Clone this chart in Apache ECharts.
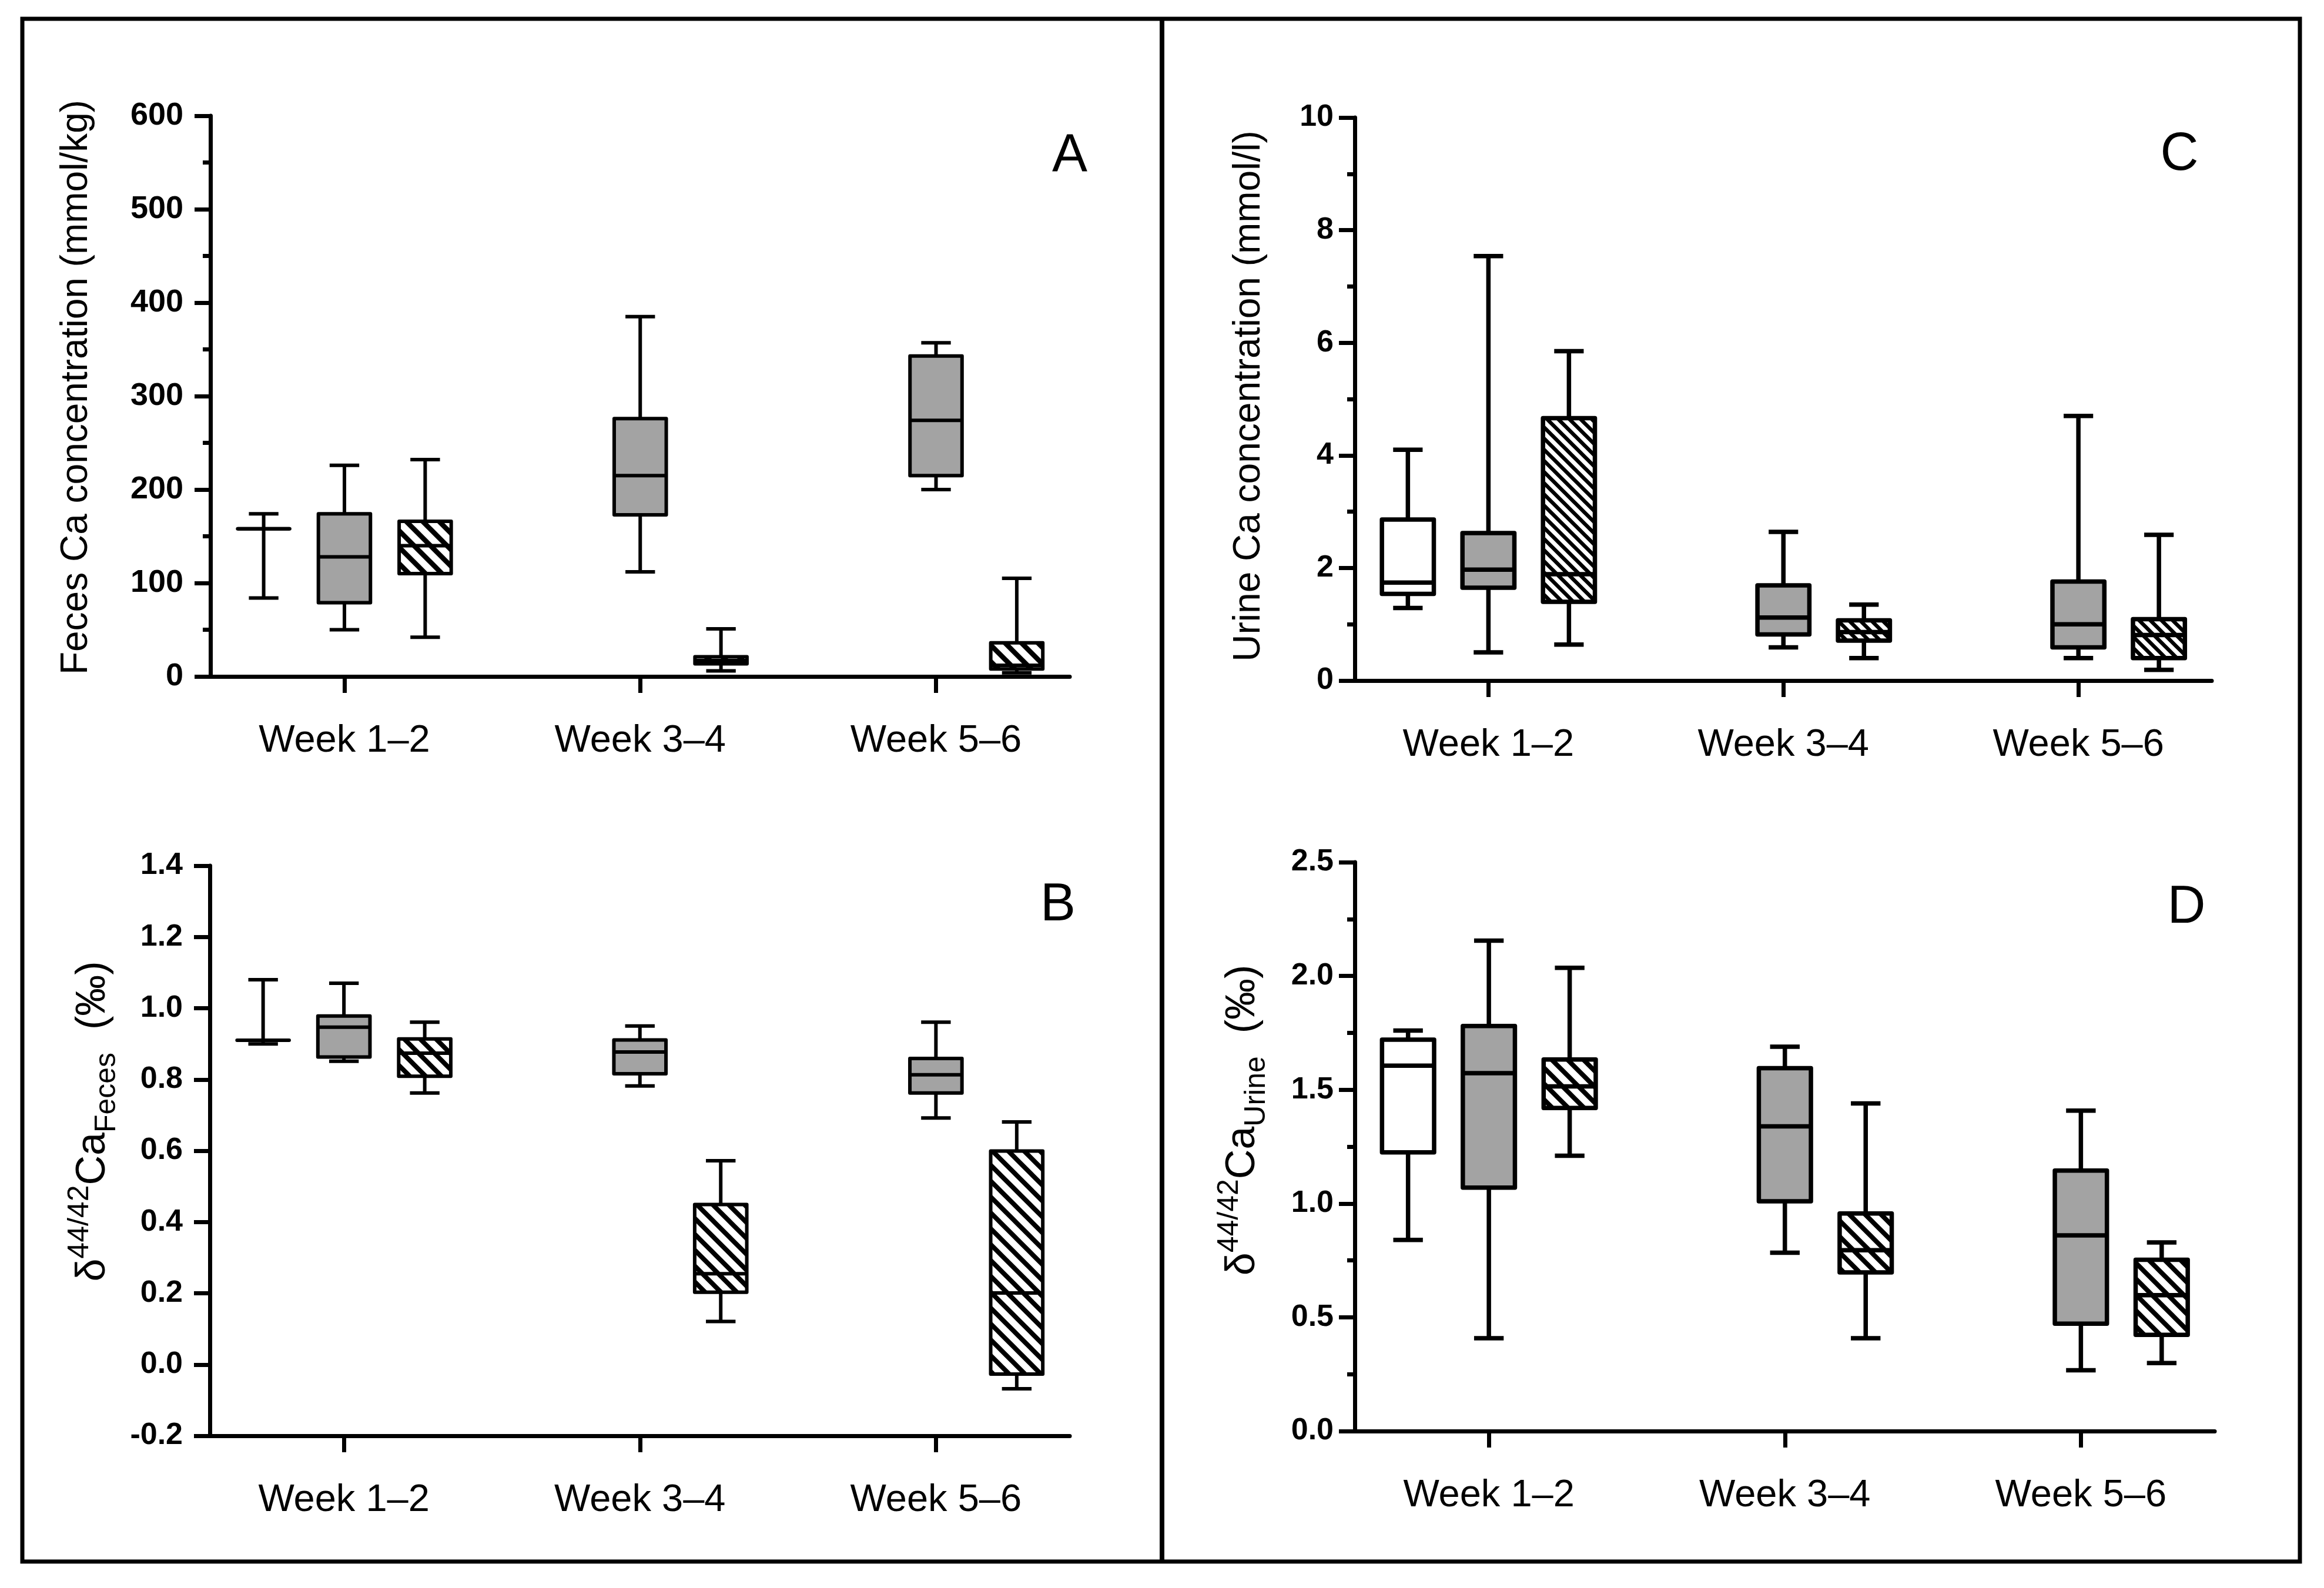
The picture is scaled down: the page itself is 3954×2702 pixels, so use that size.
<!DOCTYPE html>
<html><head><meta charset="utf-8">
<script src="https://cdn.jsdelivr.net/npm/echarts@6/dist/echarts.min.js"></script>
<style>html,body{margin:0;padding:0;background:#fff}#c{width:3954px;height:2702px}</style>
</head><body><div id="c"></div>
<script>
// ---------------- DATA ----------------
const weekLabels = ['Week 1\u20132', 'Week 3\u20134', 'Week 5\u20136'];
// each box: [min, Q1, median, Q3, max]; index = week group
const fecesCaWhite   = [[84, 158, 158, 158, 174]];
const fecesCaGray    = [[50, 79, 128, 174, 226], [112, 173, 215, 276, 385], [200, 215, 274, 343, 357]];
const fecesCaHatched = [[42, 110, 140, 166, 232], [6, 13.5, 17, 21, 51], [4, 8, 12, 36, 105]];

const deltaFecesWhite   = [[0.90, 0.91, 0.91, 0.91, 1.08]];
const deltaFecesGray    = [[0.851, 0.863, 0.947, 0.978, 1.07], [0.782, 0.816, 0.877, 0.911, 0.95], [0.692, 0.762, 0.813, 0.859, 0.961]];
const deltaFecesHatched = [[0.762, 0.809, 0.874, 0.914, 0.961], [0.121, 0.203, 0.255, 0.449, 0.572], [-0.068, -0.027, 0.201, 0.599, 0.681]];

const urineCaWhite   = [[1.29, 1.54, 1.74, 2.86, 4.10]];
const urineCaGray    = [[0.50, 1.65, 1.97, 2.62, 7.54], [0.59, 0.82, 1.12, 1.69, 2.64], [0.40, 0.59, 1.00, 1.76, 4.70]];
const urineCaHatched = [[0.64, 1.40, 1.89, 4.66, 5.85], [0.40, 0.71, 0.86, 1.07, 1.35], [0.19, 0.40, 0.81, 1.09, 2.59]];

const deltaUrineWhite   = [[0.84, 1.225, 1.606, 1.72, 1.76]];
const deltaUrineGray    = [[0.408, 1.07, 1.573, 1.78, 2.155], [0.784, 1.01, 1.339, 1.595, 1.689], [0.267, 0.472, 0.86, 1.145, 1.408]];
const deltaUrineHatched = [[1.21, 1.42, 1.515, 1.633, 2.036], [0.408, 0.697, 0.795, 0.956, 1.44], [0.299, 0.423, 0.597, 0.753, 0.829]];

// y-axis definitions (min, max, tick interval)
const yAxisA = {min: 0, max: 600, interval: 100};
const yAxisB = {min: -0.2, max: 1.4, interval: 0.2};
const yAxisC = {min: 0, max: 10, interval: 2};
const yAxisD = {min: 0, max: 2.5, interval: 0.5};

// ---------------- STYLE ----------------
const FONT = "'Liberation Sans', Arial, Helvetica, sans-serif";
const GRAY = '#a3a3a3';
const OFFSET = 0.273, BOX_HALF = 0.088, CAP_HALF = 0.05;

function makeHatch(period, thick) {
  const c = document.createElement('canvas');
  c.width = period; c.height = period;
  const g = c.getContext('2d');
  g.fillStyle = '#fff'; g.fillRect(0, 0, period, period);
  g.strokeStyle = '#000'; g.lineWidth = thick; g.lineCap = 'square';
  g.beginPath();
  for (let k = -1; k <= 1; k++) { g.moveTo(k * period - period, -period); g.lineTo(k * period + 2 * period, 2 * period); }
  g.stroke();
  return {image: c, repeat: 'repeat'};
}

function boxRenderer(offsetFrac, fill, lw) {
  return function (params, api) {
    const x = api.value(0);
    const unit = api.size([1, 0])[0];
    const cx = api.coord([x, api.value(3)])[0] + offsetFrac * unit;
    const yy = i => api.coord([x, api.value(i)])[1];
    const yMin = yy(1), yQ1 = yy(2), yMed = yy(3), yQ3 = yy(4), yMax = yy(5);
    const hw = BOX_HALF * unit, cw = CAP_HALF * unit;
    const ls = {stroke: '#000', lineWidth: lw, lineCap: 'butt', fill: null};
    return {type: 'group', children: [
      {type: 'line', shape: {x1: cx, y1: yMax, x2: cx, y2: yQ3}, style: ls},
      {type: 'line', shape: {x1: cx, y1: yQ1, x2: cx, y2: yMin}, style: ls},
      {type: 'line', shape: {x1: cx - cw, y1: yMax, x2: cx + cw, y2: yMax}, style: ls},
      {type: 'line', shape: {x1: cx - cw, y1: yMin, x2: cx + cw, y2: yMin}, style: ls},
      {type: 'rect', shape: {x: cx - hw, y: yQ3, width: 2 * hw, height: yQ1 - yQ3},
        style: {fill: fill, stroke: '#000', lineWidth: lw, lineJoin: 'round'}},
      {type: 'line', shape: {x1: cx - hw, y1: yMed, x2: cx + hw, y2: yMed}, style: ls}
    ]};
  };
}

const panels = [
  {grid: {left: 358, top: 197, width: 1462, height: 954}, y: yAxisA, white: fecesCaWhite, gray: fecesCaGray, hatched: fecesCaHatched,
   hatch: makeHatch(28, 8.5), lw: 6, fmt: v => String(Math.round(v)), minor: true, labelMargin: 46, tickFont: 54,
   name: 'Feces Ca concentration (mmol/kg)', nameGap: 196, rich: false, shift: 30},
  {grid: {left: 357, top: 1473, width: 1463, height: 970}, y: yAxisB, white: deltaFecesWhite, gray: deltaFecesGray, hatched: deltaFecesHatched,
   hatch: makeHatch(27, 8), lw: 6, fmt: v => v.toFixed(1), minor: false, labelMargin: 46, tickFont: 52,
   name: '{m|\u03b4}{sup|44/42}{m|Ca}{sub|Feces}{m|  (\u2030)}', nameGap: 150, rich: true, shift: 100},
  {grid: {left: 2305, top: 200, width: 1458, height: 958}, y: yAxisC, white: urineCaWhite, gray: urineCaGray, hatched: urineCaHatched,
   hatch: makeHatch(19, 6.5), lw: 7.5, fmt: v => String(Math.round(v)), minor: true, labelMargin: 36, tickFont: 52,
   name: 'Urine Ca concentration (mmol/l)', nameGap: 148, rich: false, shift: 10},
  {grid: {left: 2305, top: 1467, width: 1463, height: 968}, y: yAxisD, white: deltaUrineWhite, gray: deltaUrineGray, hatched: deltaUrineHatched,
   hatch: makeHatch(27, 8), lw: 7.5, fmt: v => v.toFixed(1), minor: true, labelMargin: 36, tickFont: 52,
   name: '{m|\u03b4}{sup|44/42}{m|Ca}{sub|Urine}{m|  (\u2030)}', nameGap: 142, rich: true, shift: 90}
];

const axisLineStyle = {color: '#000', width: 7};
const grids = [], xAxes = [], yAxes = [], series = [];
panels.forEach((p, i) => {
  grids.push(Object.assign({outerBoundsMode: 'none', containLabel: false}, p.grid));
  xAxes.push({
    type: 'value', gridIndex: i, min: 0.547, max: 3.452,
    splitLine: {show: false},
    axisLine: {show: true, onZero: false, lineStyle: axisLineStyle},
    axisTick: {show: true, customValues: [1, 2, 3], length: 28, lineStyle: axisLineStyle},
    axisLabel: {customValues: [1, 2, 3], formatter: v => weekLabels[Math.round(v) - 1],
      fontSize: 65, color: '#000', fontFamily: FONT, margin: 78}
  });
  const nameTextStyle = p.rich ? {
    color: '#000', fontFamily: FONT, padding: [0, 0, 0, p.shift],
    rich: {
      m: {fontSize: 70, lineHeight: 96, fontFamily: FONT, color: '#000'},
      sup: {fontSize: 50, lineHeight: 50, verticalAlign: 'top', fontFamily: FONT, color: '#000'},
      sub: {fontSize: 50, lineHeight: 50, verticalAlign: 'bottom', fontFamily: FONT, color: '#000'}
    }
  } : {fontSize: 64, color: '#000', fontFamily: FONT, padding: [0, 0, 0, p.shift]};
  yAxes.push({
    type: 'value', gridIndex: i, min: p.y.min, max: p.y.max, interval: p.y.interval,
    name: p.name, nameLocation: 'middle', nameGap: p.nameGap, nameTextStyle: nameTextStyle,
    splitLine: {show: false},
    axisLine: {show: true, onZero: false, lineStyle: axisLineStyle},
    axisTick: {show: true, length: 27, lineStyle: axisLineStyle},
    minorTick: {show: p.minor, splitNumber: 2, length: 13, lineStyle: axisLineStyle},
    minorSplitLine: {show: false},
    axisLabel: {formatter: p.fmt, fontSize: p.tickFont, fontWeight: 'bold', color: '#000', fontFamily: FONT, margin: p.labelMargin}
  });
  const groups = [[p.white, -OFFSET, '#fff'], [p.gray, 0, GRAY], [p.hatched, OFFSET, p.hatch]];
  groups.forEach(([arr, off, fill]) => {
    series.push({
      type: 'custom', xAxisIndex: i, yAxisIndex: i, silent: true, clip: false,
      encode: {x: 0, y: [1, 2, 3, 4, 5]},
      data: arr.map((v, k) => [k + 1].concat(v)),
      renderItem: boxRenderer(off, fill, p.lw)
    });
  });
});

const letterStyle = t => ({text: t, fontSize: 90, fontFamily: FONT, fill: '#000',
  align: 'center', verticalAlign: 'middle', textAlign: 'center', textVerticalAlign: 'middle'});

const chart = echarts.init(document.getElementById('c'), null, {renderer: 'canvas'});
chart.setOption({
  backgroundColor: '#fff',
  animation: false,
  grid: grids, xAxis: xAxes, yAxis: yAxes, series: series,
  graphic: [
    {type: 'rect', silent: true, shape: {x: 38, y: 32, width: 3875, height: 2625},
      style: {fill: 'none', stroke: '#000', lineWidth: 7}},
    {type: 'line', silent: true, shape: {x1: 1977, y1: 32, x2: 1977, y2: 2657},
      style: {stroke: '#000', lineWidth: 8}},
    {type: 'text', silent: true, x: 1820, y: 266, style: letterStyle('A')},
    {type: 'text', silent: true, x: 1800, y: 1541, style: letterStyle('B')},
    {type: 'text', silent: true, x: 3708, y: 264, style: letterStyle('C')},
    {type: 'text', silent: true, x: 3720, y: 1545, style: letterStyle('D')}
  ]
});
</script></body></html>
